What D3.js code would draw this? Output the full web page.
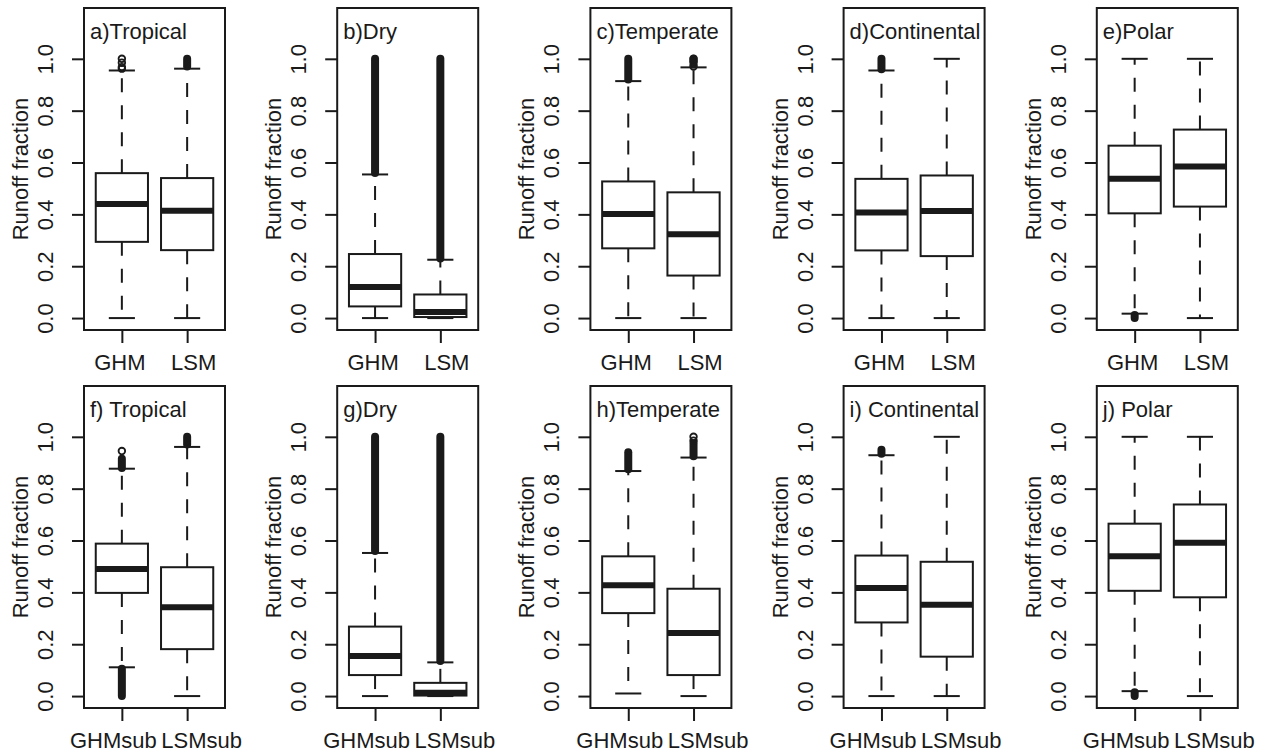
<!DOCTYPE html>
<html>
<head>
<meta charset="utf-8">
<script src="https://cdn.jsdelivr.net/npm/d3@7"></script>
<style>
  body { margin: 0; background: #fff; }
  svg text { font-family: "Liberation Sans", Arial, Helvetica, sans-serif; fill: #1a1a1a; }
</style>
</head>
<body>
<svg id="chart" width="1266" height="754"></svg>
<script>
// panel titles, top row then bottom row
const titles = ["a)Tropical", "b)Dry", "c)Temperate", "d)Continental", "e)Polar",
                "f) Tropical", "g)Dry", "h)Temperate", "i) Continental", "j) Polar"];
const topGroups = ["GHM", "LSM"];
const bottomGroups = ["GHMsub", "LSMsub"];
const yTicks = [0, 0.2, 0.4, 0.6, 0.8, 1.0];

// [lower whisker, q1, median, q3, upper whisker] per panel
const ghmStats = [
    [0, 0.294, 0.440, 0.559, 0.955],
    [0, 0.045, 0.120, 0.247, 0.554],
    [0, 0.269, 0.401, 0.527, 0.914],
    [0, 0.261, 0.407, 0.537, 0.955],
    [0.017, 0.404, 0.537, 0.665, 1.0],
    [0.111, 0.398, 0.490, 0.588, 0.877],
    [0, 0.081, 0.155, 0.268, 0.552],
    [0.010, 0.320, 0.427, 0.539, 0.868],
    [0, 0.284, 0.417, 0.542, 0.929],
    [0.019, 0.406, 0.539, 0.665, 1.0]
];
const lsmStats = [
    [0, 0.262, 0.414, 0.540, 0.962],
    [0, 0.004, 0.023, 0.091, 0.225],
    [0, 0.164, 0.323, 0.485, 0.967],
    [0, 0.239, 0.413, 0.550, 1.0],
    [0, 0.430, 0.585, 0.727, 1.0],
    [0, 0.181, 0.343, 0.497, 0.961],
    [0, 0.002, 0.013, 0.051, 0.130],
    [0, 0.081, 0.243, 0.414, 0.920],
    [0, 0.152, 0.352, 0.518, 1.0],
    [0, 0.381, 0.591, 0.739, 1.0]
];

// dense runs of outliers [from, to], drawn as overlapping circles
const ghmBands = [
    [], [[0.56, 1.0]], [[0.92, 1.0]], [[0.96, 1.0]], [[0, 0.012]],
    [[0.88, 0.915], [0, 0.105]], [[0.56, 1.0]], [[0.875, 0.94]], [[0.935, 0.95]], [[0, 0.015]]
];
const lsmBands = [
    [[0.97, 1.0]], [[0.23, 1.0]], [[0.978, 1.0]], [], [],
    [[0.97, 1.0]], [[0.135, 1.0]], [[0.925, 0.975]], [], []
];
// single outliers
const ghmPoints = [[0.962, 0.968, 0.985, 1.0], [], [], [], [], [0.945], [], [], [], []];
const lsmPoints = [[], [], [0.97, 0.99, 1.0], [], [], [], [], [0.985, 1.0], [], []];

const W = 1266, cellW = W / 5, rowStep = 378;
const M = { left: 84, top: 8 };
const plotW = 141, plotH = 322;
const FONT = 22;

const SVG = d3.select("#chart");

const x = d3.scaleLinear().domain([0.42, 2.58]).range([0, plotW]);
const y = d3.scaleLinear().domain([-0.046, 1.196]).range([plotH, 0]);

titles.forEach((title, p) => {
    const row = Math.floor(p / 5), col = p % 5;
    const groups = row === 0 ? topGroups : bottomGroups;
    // label nudges, the original labels sit a bit apart from the ticks
    const nudge = row === 0 ? [-2.5, 6] : [-9, 14];
    const g = SVG.append("g")
        .attr("transform", `translate(${col * cellW + M.left},${row * rowStep + M.top})`);

    // y axis
    const yAxis = g.append("g")
        .call(d3.axisLeft(y).tickValues(yTicks).tickFormat(d3.format(".1f")).tickSize(12));
    yAxis.select(".domain").remove();
    yAxis.selectAll("line").attr("stroke", "#1a1a1a").attr("stroke-width", 2);
    yAxis.selectAll("text")
        .attr("x", null).attr("dy", null)
        .attr("transform", "translate(-31,0) rotate(-90)")
        .attr("text-anchor", "middle")
        .style("font-size", FONT + "px");

    // x axis
    const xAxis = g.append("g")
        .attr("transform", `translate(0,${plotH})`)
        .call(d3.axisBottom(x).tickValues([1, 2]).tickFormat((d, i) => groups[i]).tickSize(13));
    xAxis.select(".domain").remove();
    xAxis.selectAll("line").attr("stroke", "#1a1a1a").attr("stroke-width", 2);
    xAxis.selectAll("text")
        .attr("y", 40).attr("dy", null)
        .attr("dx", (d, i) => nudge[i])
        .style("font-size", FONT + "px");

    g.append("text")
        .attr("transform", `translate(-56,${plotH / 2}) rotate(-90)`)
        .attr("text-anchor", "middle")
        .style("font-size", FONT + "px")
        .text("Runoff fraction");

    // boxes
    const boxes = [
        { pos: 1, s: ghmStats[p], bands: ghmBands[p], pts: ghmPoints[p] },
        { pos: 2, s: lsmStats[p], bands: lsmBands[p], pts: lsmPoints[p] }
    ];
    boxes.forEach(b => {
        const cx = x(b.pos);
        const hw = x(b.pos + 0.4) - cx;
        const cw = x(b.pos + 0.2) - cx;
        const [lo, q1, med, q3, hi] = b.s;

        // whiskers
        [[q3, hi], [q1, lo]].forEach(([from, to]) => {
            g.append("line")
                .attr("x1", cx).attr("x2", cx)
                .attr("y1", y(from)).attr("y2", y(to))
                .attr("stroke", "#1a1a1a").attr("stroke-width", 2)
                .attr("stroke-dasharray", "14,13");
            g.append("line")
                .attr("x1", cx - cw).attr("x2", cx + cw)
                .attr("y1", y(to)).attr("y2", y(to))
                .attr("stroke", "#1a1a1a").attr("stroke-width", 2);
        });

        g.append("rect")
            .attr("x", cx - hw).attr("width", 2 * hw)
            .attr("y", y(q3)).attr("height", y(q1) - y(q3))
            .attr("fill", "none").attr("stroke", "#1a1a1a").attr("stroke-width", 2);

        g.append("line")
            .attr("x1", cx - hw).attr("x2", cx + hw)
            .attr("y1", y(med)).attr("y2", y(med))
            .attr("stroke", "#1a1a1a").attr("stroke-width", 6);

        // outliers
        b.bands.forEach(([a, c]) => {
            g.append("line")
                .attr("x1", cx).attr("x2", cx)
                .attr("y1", y(a)).attr("y2", y(c))
                .attr("stroke", "#1a1a1a").attr("stroke-width", 8)
                .attr("stroke-linecap", "round");
        });
        g.selectAll(null)
            .data(b.pts)
            .join("circle")
            .attr("cx", cx).attr("cy", d => y(d))
            .attr("r", 3.3)
            .attr("fill", "none").attr("stroke", "#1a1a1a").attr("stroke-width", 1.8);
    });

    // frame
    g.append("rect")
        .attr("width", plotW).attr("height", plotH)
        .attr("fill", "none").attr("stroke", "#1a1a1a").attr("stroke-width", 2);

    g.append("text")
        .attr("x", 6).attr("y", 31)
        .style("font-size", FONT + "px")
        .text(title);
});
</script>
</body>
</html>
